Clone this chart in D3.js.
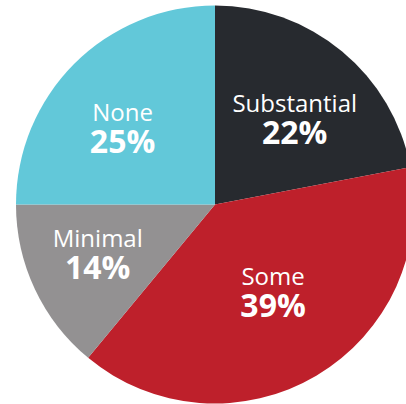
<!DOCTYPE html>
<html><head><meta charset="utf-8">
<script src="https://cdn.jsdelivr.net/npm/d3@7"></script>
<style>html,body{margin:0;padding:0;background:#fff;overflow:hidden}</style>
</head><body>
<svg id="chart" width="406" height="404"></svg>
<script>
const categories = ["Substantial", "Some", "Minimal", "None"];
const values = [22, 39, 14, 25];
const valueLabels = ["22%", "39%", "14%", "25%"];
const colors = ["#272a2f", "#be202b", "#939192", "#62c8d9"];
// label nudges (px) relative to arc centroid
const nudges = [[4.5, -1.5], [-2, -21.5], [-10.5, -8], [-9, 0]];

const svg = d3.select("#chart");
const cx = 215, cy = 204.5, R = 199;
const g = svg.append("g").attr("transform", `translate(${cx},${cy})`);

const pie = d3.pie().sort(null).value(d => d.v);
const data = pie(categories.map((c, i) => ({c, v: values[i], l: valueLabels[i], col: colors[i], n: nudges[i]})));
const arc = d3.arc().innerRadius(0).outerRadius(R);
const labelArc = d3.arc().innerRadius(118).outerRadius(118);

g.selectAll("path").data(data).join("path")
  .attr("d", arc).attr("fill", d => d.data.col);

const font = "'Open Sans', sans-serif";
const txt = g.selectAll("text.lab").data(data).join("text").attr("class", "lab")
  .attr("transform", d => { const [x, y] = labelArc.centroid(d); return `translate(${x + d.data.n[0]},${y + d.data.n[1]})`; })
  .attr("text-anchor", "middle").attr("fill", "#fff").style("font-family", font);
txt.append("tspan").attr("x", 0).attr("y", 0).style("font-size", "24px")
  .text(d => d.data.c);
txt.append("tspan").attr("x", 0).attr("y", 32).style("font-size", "32px").style("font-weight", "bold")
  .text(d => d.data.l);
</script>
</body></html>
